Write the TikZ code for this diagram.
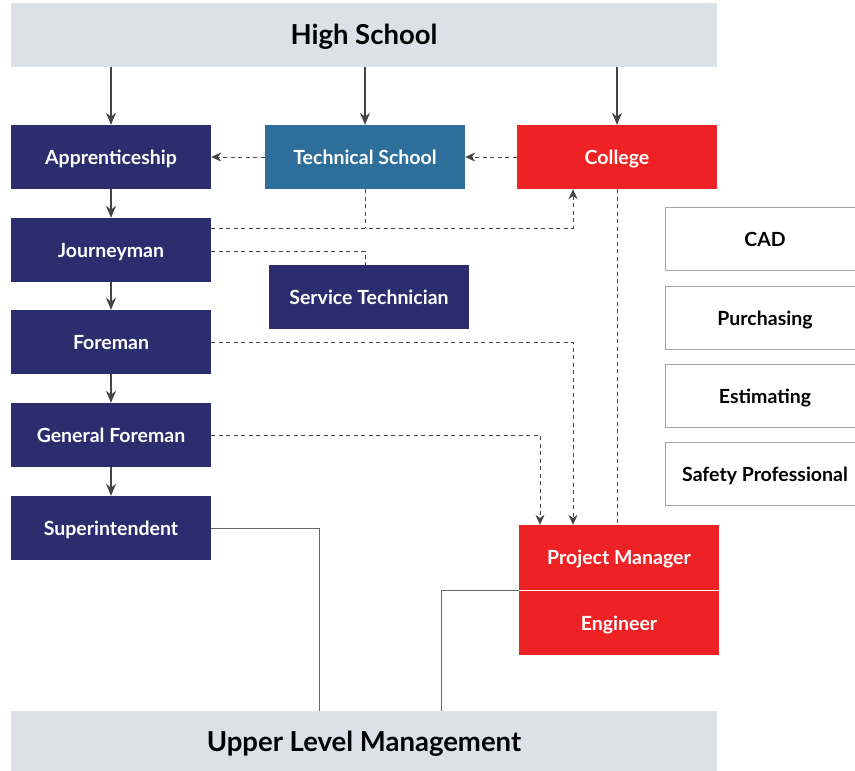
\documentclass[tikz,border=0pt]{standalone}
\usepackage{fontspec}
\setmainfont{Lato}
\usetikzlibrary{arrows.meta}

\definecolor{hsgray}{HTML}{DBE1E7}
\definecolor{navy}{HTML}{2B2D6E}
\definecolor{techblue}{HTML}{2D6E9A}
\definecolor{cred}{HTML}{EE2225}
\definecolor{lgray}{HTML}{444444}

\tikzset{
	box/.style={minimum width=200pt,minimum height=64pt,inner sep=0pt,text height=14pt,text depth=0pt,text=white,font=\fontsize{19.5}{22}\selectfont\bfseries},
	navybox/.style={box,fill=navy},
	redbox/.style={box,fill=cred},
	sidebox/.style={box,draw=black!35,line width=1pt,fill=white,text=black,minimum width=199pt,minimum height=63pt},
	levelbox/.style={minimum width=706pt,inner sep=0pt,text height=20pt,text depth=0pt,fill=hsgray,font=\fontsize{27.5}{30}\selectfont\bfseries},
	arr/.style={draw=lgray,line width=1.2pt,-{Stealth[length=12pt,width=10pt]}},
	dasharr/.style={draw=lgray,line width=0.9pt,dash pattern=on 4pt off 3.5pt,-{Stealth[length=10pt,width=9pt]}},
	dashln/.style={draw=lgray,line width=0.9pt,dash pattern=on 4pt off 3.5pt},
	solidln/.style={draw=black!60,line width=1pt}
}

\begin{document}
\begin{tikzpicture}[x=1pt,y=-1pt]
			\clip (0,0) rectangle (855,771);
			\node[levelbox,minimum height=64pt](hs) at (364,35){High School};
			\node[navybox](app) at (111,157){Apprenticeship};
			\node[box,fill=techblue](tech) at (365,157){Technical School};
			\node[redbox](col) at (617,157){College};
			\node[navybox](jour) at (111,250){Journeyman};
			\node[navybox](serv) at (369,297){Service Technician};
			\node[navybox](fore) at (111,342){Foreman};
			\node[navybox](gfore) at (111,435){General Foreman};
			\node[navybox](sup) at (111,528){Superintendent};
			\node[sidebox](cad) at (765,239){CAD};
			\node[sidebox](purch) at (765,318){Purchasing};
			\node[sidebox](est) at (765,396){Estimating};
			\node[sidebox](safe) at (765,474){Safety Professional};
			\node[redbox,minimum height=65pt](pm) at (619,557.5){Project Manager};
			\node[redbox,minimum height=64pt](eng) at (619,623){Engineer};
			\node[levelbox,minimum height=60pt](ulm) at (364,741){Upper Level Management};
			\coordinate (jt) at (365,228);
			\draw[arr] (app|-hs.south)--(app.north);
			\draw[arr] (tech|-hs.south)--(tech.north);
			\draw[arr] (col|-hs.south)--(col.north);
			\draw[arr] (app)--(jour);
			\draw[arr] (jour)--(fore);
			\draw[arr] (fore)--(gfore);
			\draw[arr] (gfore)--(sup);
			\draw[dasharr] (tech.west)--(app.east);
			\draw[dasharr] (col.west)--(tech.east);
			\draw[dasharr] (jour.east|-jt)-|([xshift=-44]col.south);
			\draw[dashln] (tech.south)--(jt);
			\draw[dashln] ([yshift=-1]jour.east)-|([xshift=-4]serv.north);
			\draw[dasharr] (fore.east)-|([xshift=-46]pm.north);
			\draw[dasharr] (gfore.east)-|([xshift=-79]pm.north);
			\draw[dashln] (col.south)--(col.south|-pm.north);
			\draw[solidln] (sup.east)-|([xshift=-45]ulm.north);
			\draw[solidln] (pm.south west)-|([xshift=77]ulm.north);
		\end{tikzpicture}
\end{document}
